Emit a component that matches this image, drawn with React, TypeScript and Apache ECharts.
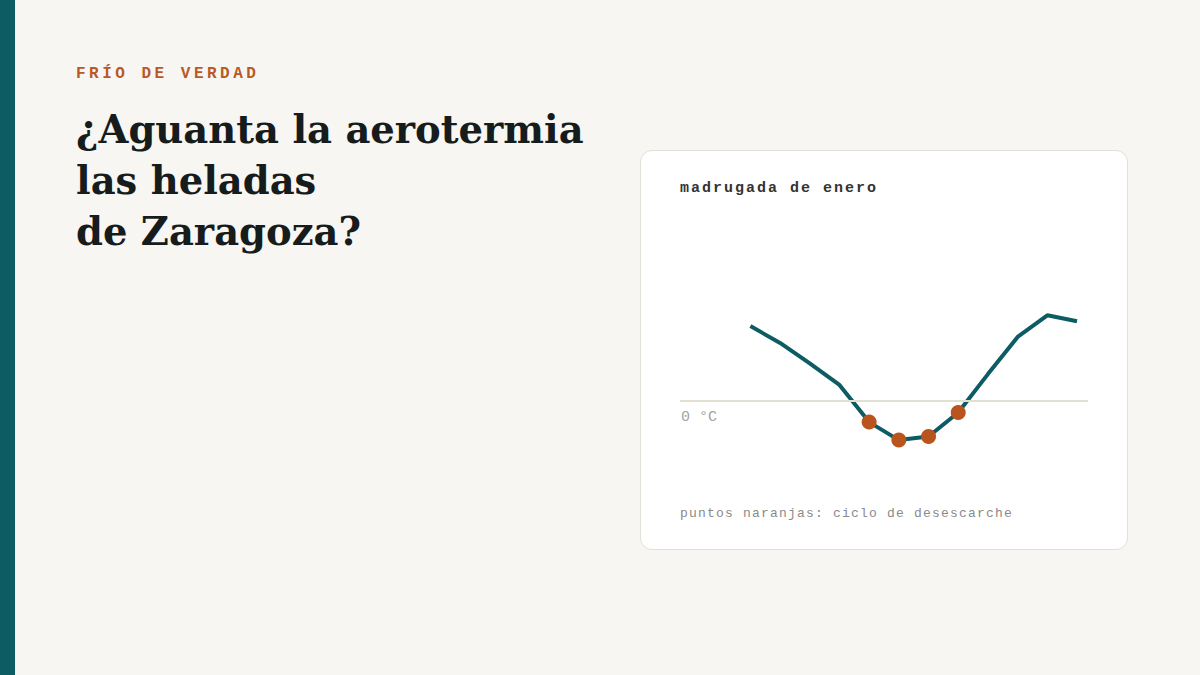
import { useEffect, useRef } from 'react'
import * as echarts from 'echarts'

// hour index of each reading through the night
const horas = [0, 1, 2, 3, 4, 5, 6, 7, 8, 9, 10, 11]
// outdoor temperature, °C
const temperatura = [6.2, 4.8, 3.1, 1.3, -1.8, -3.3, -3.0, -1.0, 2.2, 5.3, 7.1, 6.6]
// readings taken during a defrost cycle
const desescarche = [false, false, false, false, true, true, true, true, false, false, false, false]

const TEAL = '#0e5c63'
const ORANGE = '#b9541f'
const MONO = "'Courier New', 'Liberation Mono', monospace"

function NightChart() {
  const ref = useRef<HTMLDivElement | null>(null)

  useEffect(() => {
    if (!ref.current) return
    const chart = echarts.init(ref.current, undefined, { renderer: 'svg' })
    chart.setOption({
      animation: false,
      grid: { left: 39, right: 39, top: 129.5, bottom: 76.5 },
      xAxis: { type: 'value', min: -2.37, max: 11.37, show: false, splitLine: { show: false } },
      yAxis: { type: 'value', min: -6, max: 10, show: false, splitLine: { show: false } },
      series: [
        {
          type: 'line',
          z: 1,
          data: [],
          markLine: {
            silent: true,
            symbol: 'none',
            lineStyle: { color: '#e2dfd3', width: 2, type: 'solid' },
            label: {
              formatter: '0 °C',
              position: 'insideStartBottom',
              distance: [1, 9],
              color: '#a3a3a3',
              fontFamily: MONO,
              fontSize: 15
            },
            data: [{ yAxis: 0 }]
          }
        },
        {
          type: 'line',
          z: 3,
          showSymbol: true,
          lineStyle: { color: TEAL, width: 4 },
          itemStyle: { color: TEAL },
          data: horas.map((h, i) => ({
            value: [h, temperatura[i]],
            symbol: desescarche[i] ? 'circle' : 'none',
            symbolSize: 15,
            itemStyle: { color: ORANGE, borderWidth: 0 }
          }))
        }
      ]
    })
    return () => chart.dispose()
  }, [])

  return <div ref={ref} style={{ position: 'absolute', left: 0, top: 0, width: 486, height: 398 }} />
}

export default function App() {
  return (
    <div
      style={{
        position: 'fixed',
        left: 0,
        top: 0,
        width: 1200,
        height: 675,
        background: '#f7f6f2',
        overflow: 'hidden'
      }}
    >
      <div style={{ position: 'absolute', left: 0, top: 0, width: 15, height: 675, background: TEAL }} />
      <div
        style={{
          position: 'absolute',
          left: 76,
          top: 66,
          fontFamily: MONO,
          fontWeight: 700,
          fontSize: 16,
          lineHeight: '16px',
          letterSpacing: 3.5,
          color: '#b75a28',
          whiteSpace: 'nowrap'
        }}
      >
        FRÍO DE VERDAD
      </div>
      <div
        style={{
          position: 'absolute',
          left: 76,
          top: 104,
          fontFamily: "Georgia, 'DejaVu Serif', serif",
          fontWeight: 700,
          fontSize: 38.5,
          lineHeight: '51px',
          color: '#161b1c',
          whiteSpace: 'nowrap'
        }}
      >
        ¿Aguanta la aerotermia
        <br />
        las heladas
        <br />
        de Zaragoza?
      </div>
      <div
        style={{
          position: 'absolute',
          left: 640,
          top: 150,
          width: 486,
          height: 398,
          background: '#ffffff',
          border: '1px solid #e2dfd8',
          borderRadius: 12
        }}
      >
        <div
          style={{
            position: 'absolute',
            left: 39,
            top: 30,
            fontFamily: MONO,
            fontWeight: 700,
            fontSize: 15,
            lineHeight: '15px',
            letterSpacing: 2,
            color: '#333333',
            whiteSpace: 'nowrap'
          }}
        >
          madrugada de enero
        </div>
        <NightChart />
        <div
          style={{
            position: 'absolute',
            left: 39,
            top: 356,
            fontFamily: MONO,
            fontSize: 13,
            lineHeight: '13px',
            letterSpacing: 1.2,
            color: '#8a8a8a',
            whiteSpace: 'nowrap'
          }}
        >
          puntos naranjas: ciclo de desescarche
        </div>
      </div>
    </div>
  )
}
